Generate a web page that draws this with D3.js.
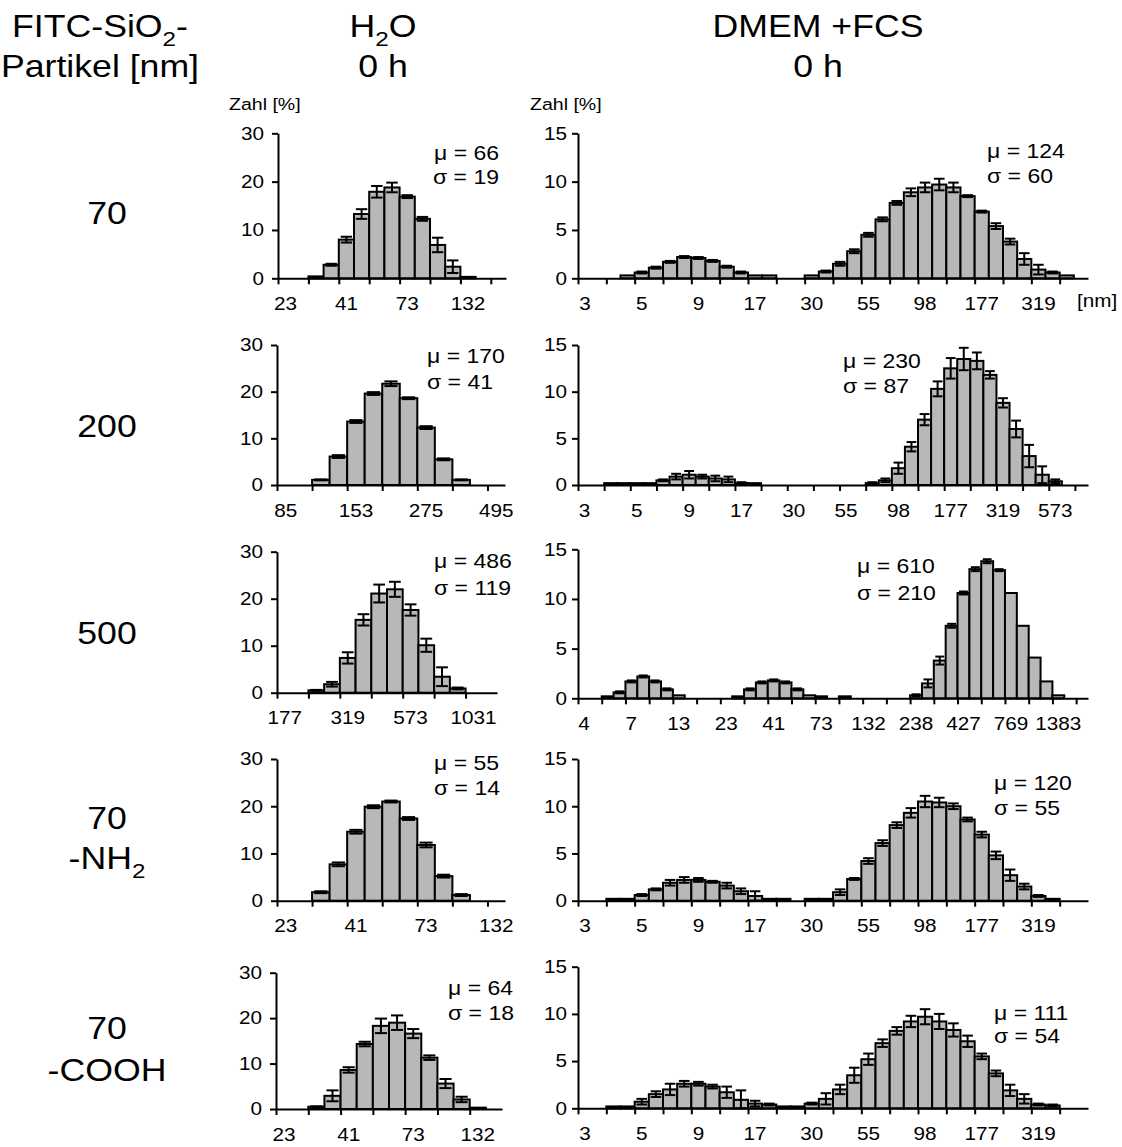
<!DOCTYPE html>
<html>
<head>
<meta charset="utf-8">
<script src="https://cdn.jsdelivr.net/npm/d3@7"></script>
<style>
  body { margin: 0; background: #fff; }
  svg { font-family: "Liberation Sans", Arial, sans-serif; }
</style>
</head>
<body>
<svg id="chart" width="1122" height="1147"></svg>
<script>
// ---- data (percent of particles per size class) ----
const cornerTitle = ["FITC-SiO_2-", "Partikel [nm]"];
const colTitles = [["H_2O", "0 h"], ["DMEM +FCS", "0 h"]];
const rowLabels = [["70"], ["200"], ["500"], ["70", "-NH_2"], ["70", "-COOH"]];

// x tick labels, one every 4 classes
const lblH2O70 = ["23", "41", "73", "132"];
const lblH2O200 = ["85", "153", "275", "495"];
const lblH2O500 = ["177", "319", "573", "1031"];
const lblDmem70 = ["3", "5", "9", "17", "30", "55", "98", "177", "319"];
const lblDmem200 = ["3", "5", "9", "17", "30", "55", "98", "177", "319", "573"];
const lblDmem500 = ["4", "7", "13", "23", "41", "73", "132", "238", "427", "769", "1383"];

// H2O column
const h2o70 = [0, 0, 0.4, 2.8, 8.0, 13.3, 17.9, 18.8, 16.9, 12.3, 6.9, 2.4, 0.3, 0, 0];
const h2o70Err = [0, 0, 0, 0.2, 0.6, 1.0, 1.2, 1.0, 0.3, 0.4, 1.5, 1.3, 0, 0, 0];
const h2o200 = [0, 0, 1.1, 6.1, 13.6, 19.6, 21.7, 18.6, 12.3, 5.5, 1.1, 0, 0];
const h2o200Err = [0, 0, 0.1, 0.3, 0.3, 0.3, 0.5, 0.2, 0.3, 0.2, 0.1, 0, 0];
const h2o500 = [0, 0, 0.5, 1.8, 7.4, 15.5, 21.1, 22.0, 17.6, 10.1, 3.4, 0.9, 0, 0];
const h2o500Err = [0, 0, 0.1, 0.5, 1.2, 1.2, 1.9, 1.6, 1.2, 1.4, 2.0, 0.2, 0, 0];
const h2oNH2 = [0, 0, 1.8, 7.7, 14.6, 19.9, 21.0, 17.4, 11.8, 5.2, 1.2, 0, 0];
const h2oNH2Err = [0, 0, 0.2, 0.4, 0.4, 0.3, 0.2, 0.3, 0.5, 0.3, 0.2, 0, 0];
const h2oCOOH = [0, 0, 0.5, 2.9, 8.6, 14.3, 18.3, 19.0, 16.6, 11.3, 5.6, 2.1, 0.3, 0];
const h2oCOOHErr = [0, 0, 0.1, 1.2, 0.6, 0.5, 1.6, 1.6, 1.0, 0.5, 1.0, 0.6, 0, 0];

// DMEM +FCS column
const dmem70 = [0, 0, 0, 0.3, 0.6, 1.1, 1.7, 2.2, 2.1, 1.8, 1.2, 0.6, 0.3, 0.3, 0, 0, 0.3, 0.7,
  1.5, 2.8, 4.5, 6.1, 7.8, 8.9, 9.4, 9.7, 9.4, 8.5, 6.9, 5.4, 3.8, 2.0, 0.9, 0.6, 0.3, 0];
const dmem70Err = [0, 0, 0, 0, 0.1, 0.1, 0.1, 0.1, 0.1, 0.1, 0.1, 0.1, 0, 0, 0, 0, 0, 0.1,
  0.2, 0.2, 0.2, 0.2, 0.2, 0.4, 0.5, 0.6, 0.5, 0.1, 0.1, 0.3, 0.3, 0.6, 0.5, 0.1, 0, 0];
const dmem200 = [0, 0, 0.2, 0.2, 0.2, 0.2, 0.5, 0.9, 1.1, 0.9, 0.7, 0.6, 0.2, 0.2, 0, 0, 0, 0, 0, 0,
  0, 0, 0.2, 0.5, 1.8, 4.1, 7.0, 10.3, 12.5, 13.5, 13.3, 11.8, 8.8, 6.0, 3.1, 1.1, 0.4, 0, 0];
const dmem200Err = [0, 0, 0, 0, 0, 0, 0.1, 0.3, 0.4, 0.2, 0.3, 0.3, 0.1, 0, 0, 0, 0, 0, 0, 0,
  0, 0, 0.1, 0.2, 0.6, 0.5, 0.6, 0.8, 1.1, 1.2, 0.9, 0.4, 0.5, 0.9, 1.2, 0.9, 0.2, 0, 0];
const dmem500 = [0, 0, 0.2, 0.6, 1.7, 2.2, 1.7, 0.9, 0.3, 0, 0, 0, 0, 0.2, 0.9, 1.6, 1.8, 1.6, 0.9,
  0.3, 0.2, 0, 0.2, 0, 0, 0, 0, 0, 0.3, 1.5, 3.8, 7.3, 10.6, 13.0, 13.8, 12.9, 10.6, 7.3, 4.1, 1.7, 0.3, 0, 0];
const dmem500Err = [0, 0, 0, 0.1, 0.1, 0.1, 0.1, 0.1, 0, 0, 0, 0, 0, 0, 0.1, 0.1, 0.1, 0.1, 0.1,
  0, 0, 0, 0, 0, 0, 0, 0, 0, 0.1, 0.4, 0.4, 0.2, 0.15, 0.2, 0.2, 0.1, 0, 0, 0, 0, 0, 0, 0];
const dmemNH2 = [0, 0, 0.2, 0.2, 0.6, 1.2, 1.9, 2.2, 2.2, 2.0, 1.6, 1.0, 0.5, 0.2, 0.2, 0, 0.2, 0.2,
  0.9, 2.3, 4.2, 6.1, 8.0, 9.3, 10.5, 10.4, 10.0, 8.6, 7.0, 4.8, 2.7, 1.5, 0.5, 0.2, 0, 0];
const dmemNH2Err = [0, 0, 0, 0, 0.1, 0.1, 0.3, 0.3, 0.2, 0.1, 0.3, 0.3, 0.5, 0, 0, 0, 0, 0,
  0.3, 0.1, 0.3, 0.3, 0.3, 0.5, 0.6, 0.5, 0.3, 0.2, 0.3, 0.4, 0.6, 0.3, 0.1, 0, 0, 0];
const dmemCOOH = [0, 0, 0.2, 0.2, 0.7, 1.5, 2.0, 2.6, 2.6, 2.3, 1.7, 0.9, 0.5, 0.4, 0.2, 0.2, 0.5, 1.0,
  2.0, 3.5, 5.2, 6.9, 8.2, 9.2, 9.7, 9.2, 8.3, 7.1, 5.5, 3.7, 1.9, 1.0, 0.4, 0.3, 0, 0];
const dmemCOOHErr = [0, 0, 0, 0, 0.3, 0.3, 0.6, 0.3, 0.2, 0.2, 0.6, 1.0, 0.3, 0.1, 0, 0, 0.1, 0.6,
  0.5, 0.8, 0.6, 0.4, 0.4, 0.6, 0.8, 0.8, 0.7, 0.6, 0.3, 0.3, 0.6, 0.5, 0.1, 0.1, 0, 0];

const h2oMu = [66, 170, 486, 55, 64];
const h2oSigma = [19, 41, 119, 14, 18];
const dmemMu = [124, 230, 610, 120, 111];
const dmemSigma = [60, 87, 210, 55, 54];

// ---- layout ----
const S = 1.15; // horizontal stretch of the lettering in the original figure
const svg = d3.select('#chart');

function stext(parent, x, y, str, size, anchor) {
	const t = parent.append('text')
		.attr('transform', `translate(${x},${y}) scale(${S},1)`)
		.attr('font-size', size)
		.attr('text-anchor', anchor || 'start')
		.attr('fill', '#000');
	let shift = 0;
	str.split(/(_\d)/).forEach((part) => {
		if (!part) return;
		if (part[0] === '_') {
			const d = size * 0.28;
			t.append('tspan').attr('dy', d - shift).attr('font-size', size * 0.68).text(part.slice(1));
			shift = d;
		} else {
			t.append('tspan').attr('dy', -shift).text(part);
			shift = 0;
		}
	});
	return t;
}

const leftCol = [
	{vals: h2o70, errs: h2o70Err, labels: lblH2O70, x0: 278, x1: 506, yT: 133.3, yB: 278.3, mu: [434, 160], sg: [433, 184]},
	{vals: h2o200, errs: h2o200Err, labels: lblH2O200, x0: 277, x1: 505, yT: 345, yB: 485, mu: [427, 363], sg: [427, 389]},
	{vals: h2o500, errs: h2o500Err, labels: lblH2O500, x0: 277, x1: 497, yT: 551.7, yB: 692.7, mu: [434, 568], sg: [434, 595]},
	{vals: h2oNH2, errs: h2oNH2Err, labels: lblH2O70, x0: 277, x1: 505, yT: 759, yB: 900.7, mu: [434, 770], sg: [434, 795]},
	{vals: h2oCOOH, errs: h2oCOOHErr, labels: lblH2O70, x0: 276, x1: 502, yT: 972.7, yB: 1109, mu: [448, 995], sg: [448, 1020]}
];
const rightCol = [
	{vals: dmem70, errs: dmem70Err, labels: lblDmem70, yT: 133.3, yB: 278.3, mu: [987, 158], sg: [987, 183]},
	{vals: dmem200, errs: dmem200Err, labels: lblDmem200, yT: 345, yB: 485, mu: [843, 368], sg: [843, 393]},
	{vals: dmem500, errs: dmem500Err, labels: lblDmem500, yT: 549.3, yB: 698.3, mu: [857, 573], sg: [857, 600]},
	{vals: dmemNH2, errs: dmemNH2Err, labels: lblDmem70, yT: 759, yB: 900.7, mu: [994, 790], sg: [994, 815]},
	{vals: dmemCOOH, errs: dmemCOOHErr, labels: lblDmem70, yT: 966.7, yB: 1108.3, mu: [994, 1020], sg: [994, 1043]}
];
leftCol.forEach((p, i) => { p.max = 30; p.ticks = [0, 10, 20, 30]; p.gap = 14; p.muV = h2oMu[i]; p.sgV = h2oSigma[i]; });
rightCol.forEach((p, i) => { p.x0 = 578; p.x1 = 1088; p.max = 15; p.ticks = [0, 5, 10, 15]; p.gap = 11; p.muV = dmemMu[i]; p.sgV = dmemSigma[i]; });

function drawPanel(p) {
	const g = svg.append('g');
	const n = p.vals.length;
	const x = d3.scaleBand().domain(d3.range(n)).range([p.x0, p.x1]).padding(0);
	const xb = d3.scaleLinear().domain([0, n]).range([p.x0, p.x1]);
	const y = d3.scaleLinear().domain([0, p.max]).range([p.yB, p.yT]);
	const bw = x.bandwidth();

	// bars
	g.append('g').selectAll('rect')
		.data(p.vals)
		.join('rect')
		.attr('x', (d, i) => x(i))
		.attr('width', bw)
		.attr('y', (d) => y(d))
		.attr('height', (d) => y(0) - y(d))
		.attr('fill', '#b8b8b8')
		.attr('stroke', '#000')
		.attr('stroke-width', 2);

	// error bars
	const eb = g.append('g').attr('stroke', '#000').attr('stroke-width', 2);
	const cw = bw * 0.75;
	p.vals.forEach((v, i) => {
		const e = p.errs[i];
		if (!(e > 0)) return;
		const cx = x(i) + bw / 2;
		const lo = y(Math.max(0, v - e)), hi = y(v + e);
		eb.append('line').attr('x1', cx).attr('x2', cx).attr('y1', lo).attr('y2', hi);
		eb.append('line').attr('x1', cx - cw / 2).attr('x2', cx + cw / 2).attr('y1', hi).attr('y2', hi);
		eb.append('line').attr('x1', cx - cw / 2).attr('x2', cx + cw / 2).attr('y1', lo).attr('y2', lo);
	});

	// x axis: tick marks between classes
	const xa = g.append('g')
		.attr('transform', `translate(0,${p.yB})`)
		.call(d3.axisBottom(xb).tickValues(d3.range(0, n, 2)).tickSize(6).tickSizeOuter(0).tickFormat(''));
	xa.select('.domain').attr('stroke-width', 2);
	xa.selectAll('.tick line').attr('stroke-width', 2);

	// x labels: every 4th class, centred on the class
	const xl = g.append('g')
		.attr('transform', `translate(0,${p.yB})`)
		.call(d3.axisBottom(x)
			.tickValues(d3.range(0, n, 4).slice(0, p.labels.length))
			.tickSize(0).tickPadding(19)
			.tickFormat((i) => p.labels[i / 4]));
	xl.select('.domain').remove();
	xl.attr('font-size', 18).attr('font-family', null);
	xl.selectAll('text').attr('fill', '#000').attr('transform', `scale(${S},1)`);

	// y axis
	const ya = g.append('g')
		.attr('transform', `translate(${p.x0},0)`)
		.call(d3.axisLeft(y).tickValues(p.ticks).tickSize(6).tickSizeOuter(0));
	ya.select('.domain').attr('stroke-width', 2);
	ya.selectAll('.tick line').attr('stroke-width', 2);
	ya.attr('font-size', 18).attr('font-family', null);
	ya.selectAll('text').attr('fill', '#000').attr('x', -p.gap / S).attr('transform', `scale(${S},1)`);

	// stats
	stext(g, p.mu[0], p.mu[1], `μ = ${p.muV}`, 20);
	stext(g, p.sg[0], p.sg[1], `σ = ${p.sgV}`, 20);
}

leftCol.forEach(drawPanel);
rightCol.forEach(drawPanel);

// headings
const hd = svg.append('g');
stext(hd, 100, 37, cornerTitle[0], 31, 'middle');
stext(hd, 100, 77, cornerTitle[1], 31, 'middle');
stext(hd, 383, 37, colTitles[0][0], 31, 'middle');
stext(hd, 383, 77, colTitles[0][1], 31, 'middle');
stext(hd, 818, 37, colTitles[1][0], 31, 'middle');
stext(hd, 818, 77, colTitles[1][1], 31, 'middle');
stext(hd, 229, 110, 'Zahl [%]', 17);
stext(hd, 530, 110, 'Zahl [%]', 17);
stext(hd, 1077, 307, '[nm]', 18);

// row labels
const rowBase = [[224], [437], [644], [829, 869], [1039, 1081]];
rowLabels.forEach((lines, r) => {
	lines.forEach((s, k) => stext(hd, 107, rowBase[r][k], s, 31, 'middle'));
});
</script>
</body>
</html>
